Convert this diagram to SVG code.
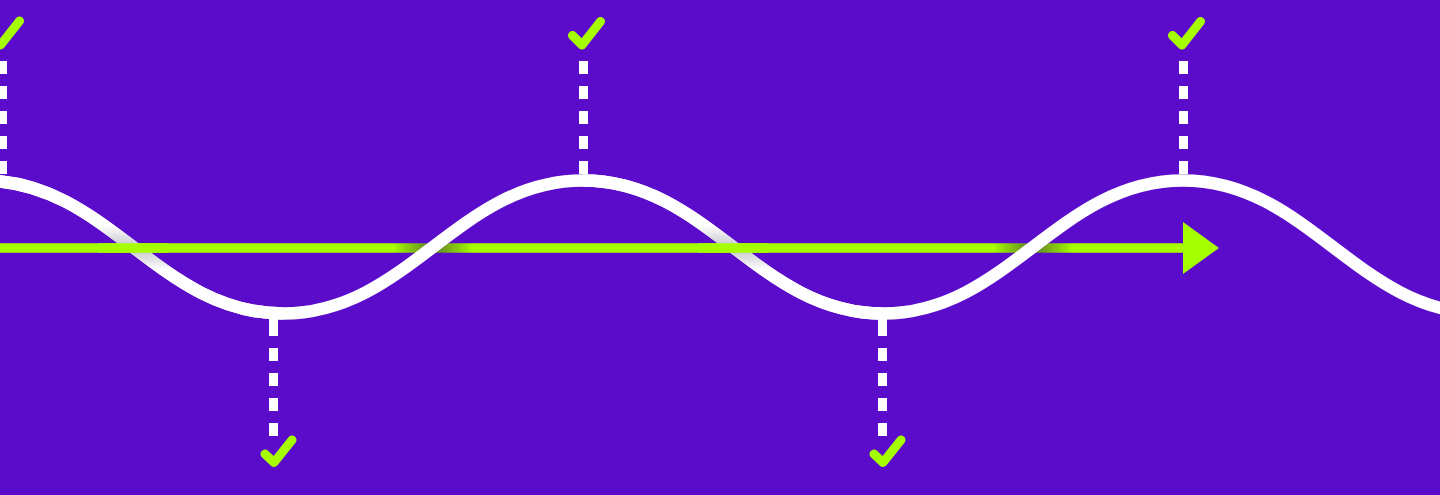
<svg xmlns="http://www.w3.org/2000/svg" width="1440" height="495" viewBox="0 0 1440 495">
  <style>
    .dash { stroke: #ffffff; stroke-width: 9; fill: none; }
    .dash-top { stroke-dasharray: 13 12; }
    .dash-bot { stroke-dasharray: 26 12 13 12 13 12 13 12 13 50; }
    .check { stroke: #a6ff00; stroke-width: 9; fill: none; stroke-linecap: round; stroke-linejoin: round; }
    .wave { fill: none; stroke-width: 12.5; stroke-linecap: butt; }
  </style>
  <defs>
    <linearGradient id="greenFade" gradientUnits="userSpaceOnUse" x1="0" y1="0" x2="1183" y2="0">
      <stop offset="0" stop-color="#a6ff00"/>
      <stop offset="0.3322" stop-color="#a6ff00"/>
      <stop offset="0.3593" stop-color="#6a9424"/>
      <stop offset="0.3728" stop-color="#6a9424"/>
      <stop offset="0.3998" stop-color="#a6ff00"/>
      <stop offset="0.8394" stop-color="#a6ff00"/>
      <stop offset="0.8664" stop-color="#6a9424"/>
      <stop offset="0.8800" stop-color="#6a9424"/>
      <stop offset="0.9070" stop-color="#a6ff00"/>
      <stop offset="1" stop-color="#a6ff00"/>
    </linearGradient>
    <linearGradient id="whiteShade" gradientUnits="userSpaceOnUse" x1="0" y1="226" x2="0" y2="270">
      <stop offset="0" stop-color="#ffffff"/>
      <stop offset="0.42" stop-color="#cbcbd2"/>
      <stop offset="0.58" stop-color="#cbcbd2"/>
      <stop offset="1" stop-color="#ffffff"/>
    </linearGradient>
  </defs>

  <rect x="0" y="0" width="1440" height="495" fill="#5a0cca"/>

  <g id="connectors">
    <line class="dash dash-top" x1="2.5" y1="61" x2="2.5" y2="180"/>
    <line class="dash dash-top" x1="583.5" y1="61" x2="583.5" y2="180"/>
    <line class="dash dash-top" x1="1183.5" y1="61" x2="1183.5" y2="180"/>
    <line class="dash dash-bot" x1="273.5" y1="310" x2="273.5" y2="436"/>
    <line class="dash dash-bot" x1="882.5" y1="310" x2="882.5" y2="436"/>
  </g>

  <g id="timeline">
    <line x1="0" y1="248" x2="1186" y2="248" stroke="url(#greenFade)" stroke-width="9.5"/>
    <polygon points="1183,222 1219,248 1183,274" fill="#a6ff00"/>
  </g>

  <g id="wave">
    <path class="wave" stroke="#ffffff" d="M-17,180.5 C108,180.5 158,313.5 283,313.5 C408,313.5 458,180.5 583,180.5 C708,180.5 758,313.5 883,313.5 C1008,313.5 1058,180.5 1183,180.5 C1308,180.5 1358,313.5 1483,313.5"/>
    <path class="wave" stroke="url(#whiteShade)" d="M-17,180.5 C108,180.5 158,313.5 283,313.5"/>
    <path class="wave" stroke="url(#whiteShade)" d="M583,180.5 C708,180.5 758,313.5 883,313.5"/>
  </g>

  <g id="timeline-over">
    <line x1="98" y1="248" x2="168" y2="248" stroke="#a6ff00" stroke-width="9.5"/>
    <line x1="698" y1="248" x2="768" y2="248" stroke="#a6ff00" stroke-width="9.5"/>
  </g>

  <g id="check-top-1"><path class="check" d="M-8.5,35 L0.5,45 L19.5,21"/></g>
  <g id="check-top-2"><path class="check" d="M572.5,35.5 L582,45 L600.5,21.5"/></g>
  <g id="check-top-3"><path class="check" d="M1172.5,35.5 L1182,45 L1200.5,21.5"/></g>
  <g id="check-bottom-1"><path class="check" d="M265,454 L274,462.5 L292,440"/></g>
  <g id="check-bottom-2"><path class="check" d="M874,454 L883,462.5 L901,440"/></g>
</svg>
